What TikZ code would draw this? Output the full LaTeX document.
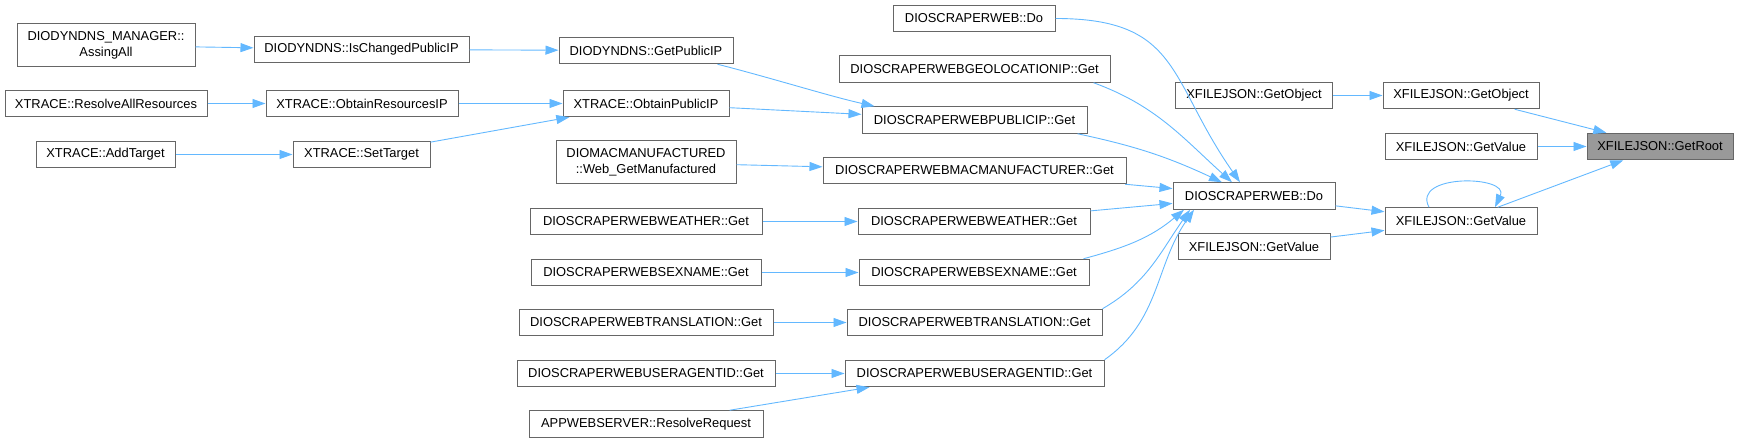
\documentclass[tikz,border=0pt]{standalone}
\usepackage{fontspec}
\setmainfont{Liberation Sans}
\usetikzlibrary{arrows.meta}
\definecolor{edgeblue}{HTML}{63B8FF}
\definecolor{frame}{HTML}{666666}
\definecolor{rootfill}{HTML}{999999}
\newcommand{\boxfont}{\fontsize{12.9}{16}\selectfont}

\begin{document}
\begin{tikzpicture}[x=1pt,y=1pt,font=\boxfont,
  fn/.style={draw=frame,fill=white,line width=1pt,inner sep=0pt,minimum height=26.5pt,align=center},
  call/.style={edgeblue,line width=0.9pt,-{Triangle[length=13pt,width=9pt]}}]
\useasboundingbox (0,0) rectangle (1738,443);
% callers, left columns
\node[fn,minimum width=178pt,minimum height=43pt] (mgr) at (106,397.5) {DIODYNDNS\_MANAGER::\\AssingAll};
\node[fn,minimum width=215pt] (ischg) at (361.5,393.5) {DIODYNDNS::IsChangedPublicIP};
\node[fn,minimum width=202pt] (resall) at (106,339.5) {XTRACE::ResolveAllResources};
\node[fn,minimum width=192pt] (obtres) at (362,339.5) {XTRACE::ObtainResourcesIP};
\node[fn,minimum width=139pt] (addtgt) at (105.5,288.5) {XTRACE::AddTarget};
\node[fn,minimum width=137pt] (settgt) at (361.5,288.5) {XTRACE::SetTarget};
\node[fn,minimum width=174pt] (getpub) at (646,392.5) {DIODYNDNS::GetPublicIP};
\node[fn,minimum width=166pt] (obtpub) at (646,339.5) {XTRACE::ObtainPublicIP};
\node[fn,minimum width=180pt,minimum height=43pt] (macweb) at (646,280.5) {DIOMACMANUFACTURED\\::Web\_GetManufactured};
\node[fn,minimum width=232pt] (wthL) at (646,221.5) {DIOSCRAPERWEBWEATHER::Get};
\node[fn,minimum width=230pt] (sexL) at (646,170.5) {DIOSCRAPERWEBSEXNAME::Get};
\node[fn,minimum width=254pt] (trnL) at (646,120.5) {DIOSCRAPERWEBTRANSLATION::Get};
\node[fn,minimum width=258pt] (uagL) at (646,69.5) {DIOSCRAPERWEBUSERAGENTID::Get};
\node[fn,minimum width=234pt] (appws) at (646,19) {APPWEBSERVER::ResolveRequest};
% scraper column
\node[fn,minimum width=162pt] (doTop) at (974,424.5) {DIOSCRAPERWEB::Do};
\node[fn,minimum width=271pt] (geo) at (974.5,374) {DIOSCRAPERWEBGEOLOCATIONIP::Get};
\node[fn,minimum width=225pt] (pubip) at (974.5,323) {DIOSCRAPERWEBPUBLICIP::Get};
\node[fn,minimum width=303pt] (macm) at (974.5,272.5) {DIOSCRAPERWEBMACMANUFACTURER::Get};
\node[fn,minimum width=232pt] (wthR) at (974,221.5) {DIOSCRAPERWEBWEATHER::Get};
\node[fn,minimum width=230pt] (sexR) at (974,170.5) {DIOSCRAPERWEBSEXNAME::Get};
\node[fn,minimum width=255pt] (trnR) at (974.5,120.5) {DIOSCRAPERWEBTRANSLATION::Get};
\node[fn,minimum width=259pt] (uagR) at (974.5,69.5) {DIOSCRAPERWEBUSERAGENTID::Get};
% json side
\node[fn,minimum width=157pt] (objL) at (1254,347.5) {XFILEJSON::GetObject};
\node[fn,minimum width=162pt] (doMid) at (1254,247) {DIOSCRAPERWEB::Do};
\node[fn,minimum width=152pt] (valL) at (1254,196.5) {XFILEJSON::GetValue};
\node[fn,minimum width=156pt] (objR) at (1461,347.5) {XFILEJSON::GetObject};
\node[fn,minimum width=152pt] (valTop) at (1461,296.5) {XFILEJSON::GetValue};
\node[fn,minimum width=152pt] (valMid) at (1461,222) {XFILEJSON::GetValue};
\node[fn,fill=rootfill,minimum width=146pt] (root) at (1660,296.5) {XFILEJSON::GetRoot};

% calls
\draw[call] (mgr) -- (ischg);
\draw[call] (ischg) -- (getpub);
\draw[call] (resall) -- (obtres);
\draw[call] (obtres) -- (obtpub);
\draw[call] (addtgt) -- (settgt);
\draw[call] (settgt) -- (obtpub);
\draw[call] ([xshift=-16pt]getpub.south east) .. controls +(55,-14) and +(-45,10) .. ([xshift=13pt]pubip.north west);
\draw[call] (obtpub) -- (pubip);
\draw[call] (macweb) -- (macm);
\draw[call] (wthL) -- (wthR);
\draw[call] (sexL) -- (sexR);
\draw[call] (trnL) -- (trnR);
\draw[call] (uagL) -- (uagR);
\draw[call] (appws) -- ([xshift=-105pt]uagR.south);
\draw[call] (doTop.east) to[out=0,in=125,looseness=1.3] ([xshift=-14pt]doMid.north);
\draw[call] ([xshift=-17pt]geo.south east) to[out=-20,in=138] ([xshift=-22pt]doMid.north);
\draw[call] ([xshift=-10pt]pubip.south east) to[out=-12,in=155] ([xshift=-32pt]doMid.north);
\draw[call] (macm) -- (doMid);
\draw[call] (wthR) -- (doMid);
\draw[call] ([xshift=-6pt]sexR.north east) to[out=15,in=-140] ([xshift=-70pt]doMid.south);
\draw[call] (trnR.north east) to[out=30,in=-125] ([xshift=-64pt]doMid.south);
\draw[call] (uagR.north east) to[out=35,in=-125] ([xshift=-60pt]doMid.south);
\draw[call] (doMid) -- (valMid);
\draw[call] (valL) -- (valMid);
\draw[call] ([xshift=-32pt]valMid.north) .. controls +(-18,34) and +(15,32) .. ([xshift=34pt]valMid.north);
\draw[call] (objL) -- (objR);
\draw[call] (objR) -- (root);
\draw[call] (valTop) -- (root);
\draw[call] (valMid) -- (root);
\end{tikzpicture}
\end{document}
